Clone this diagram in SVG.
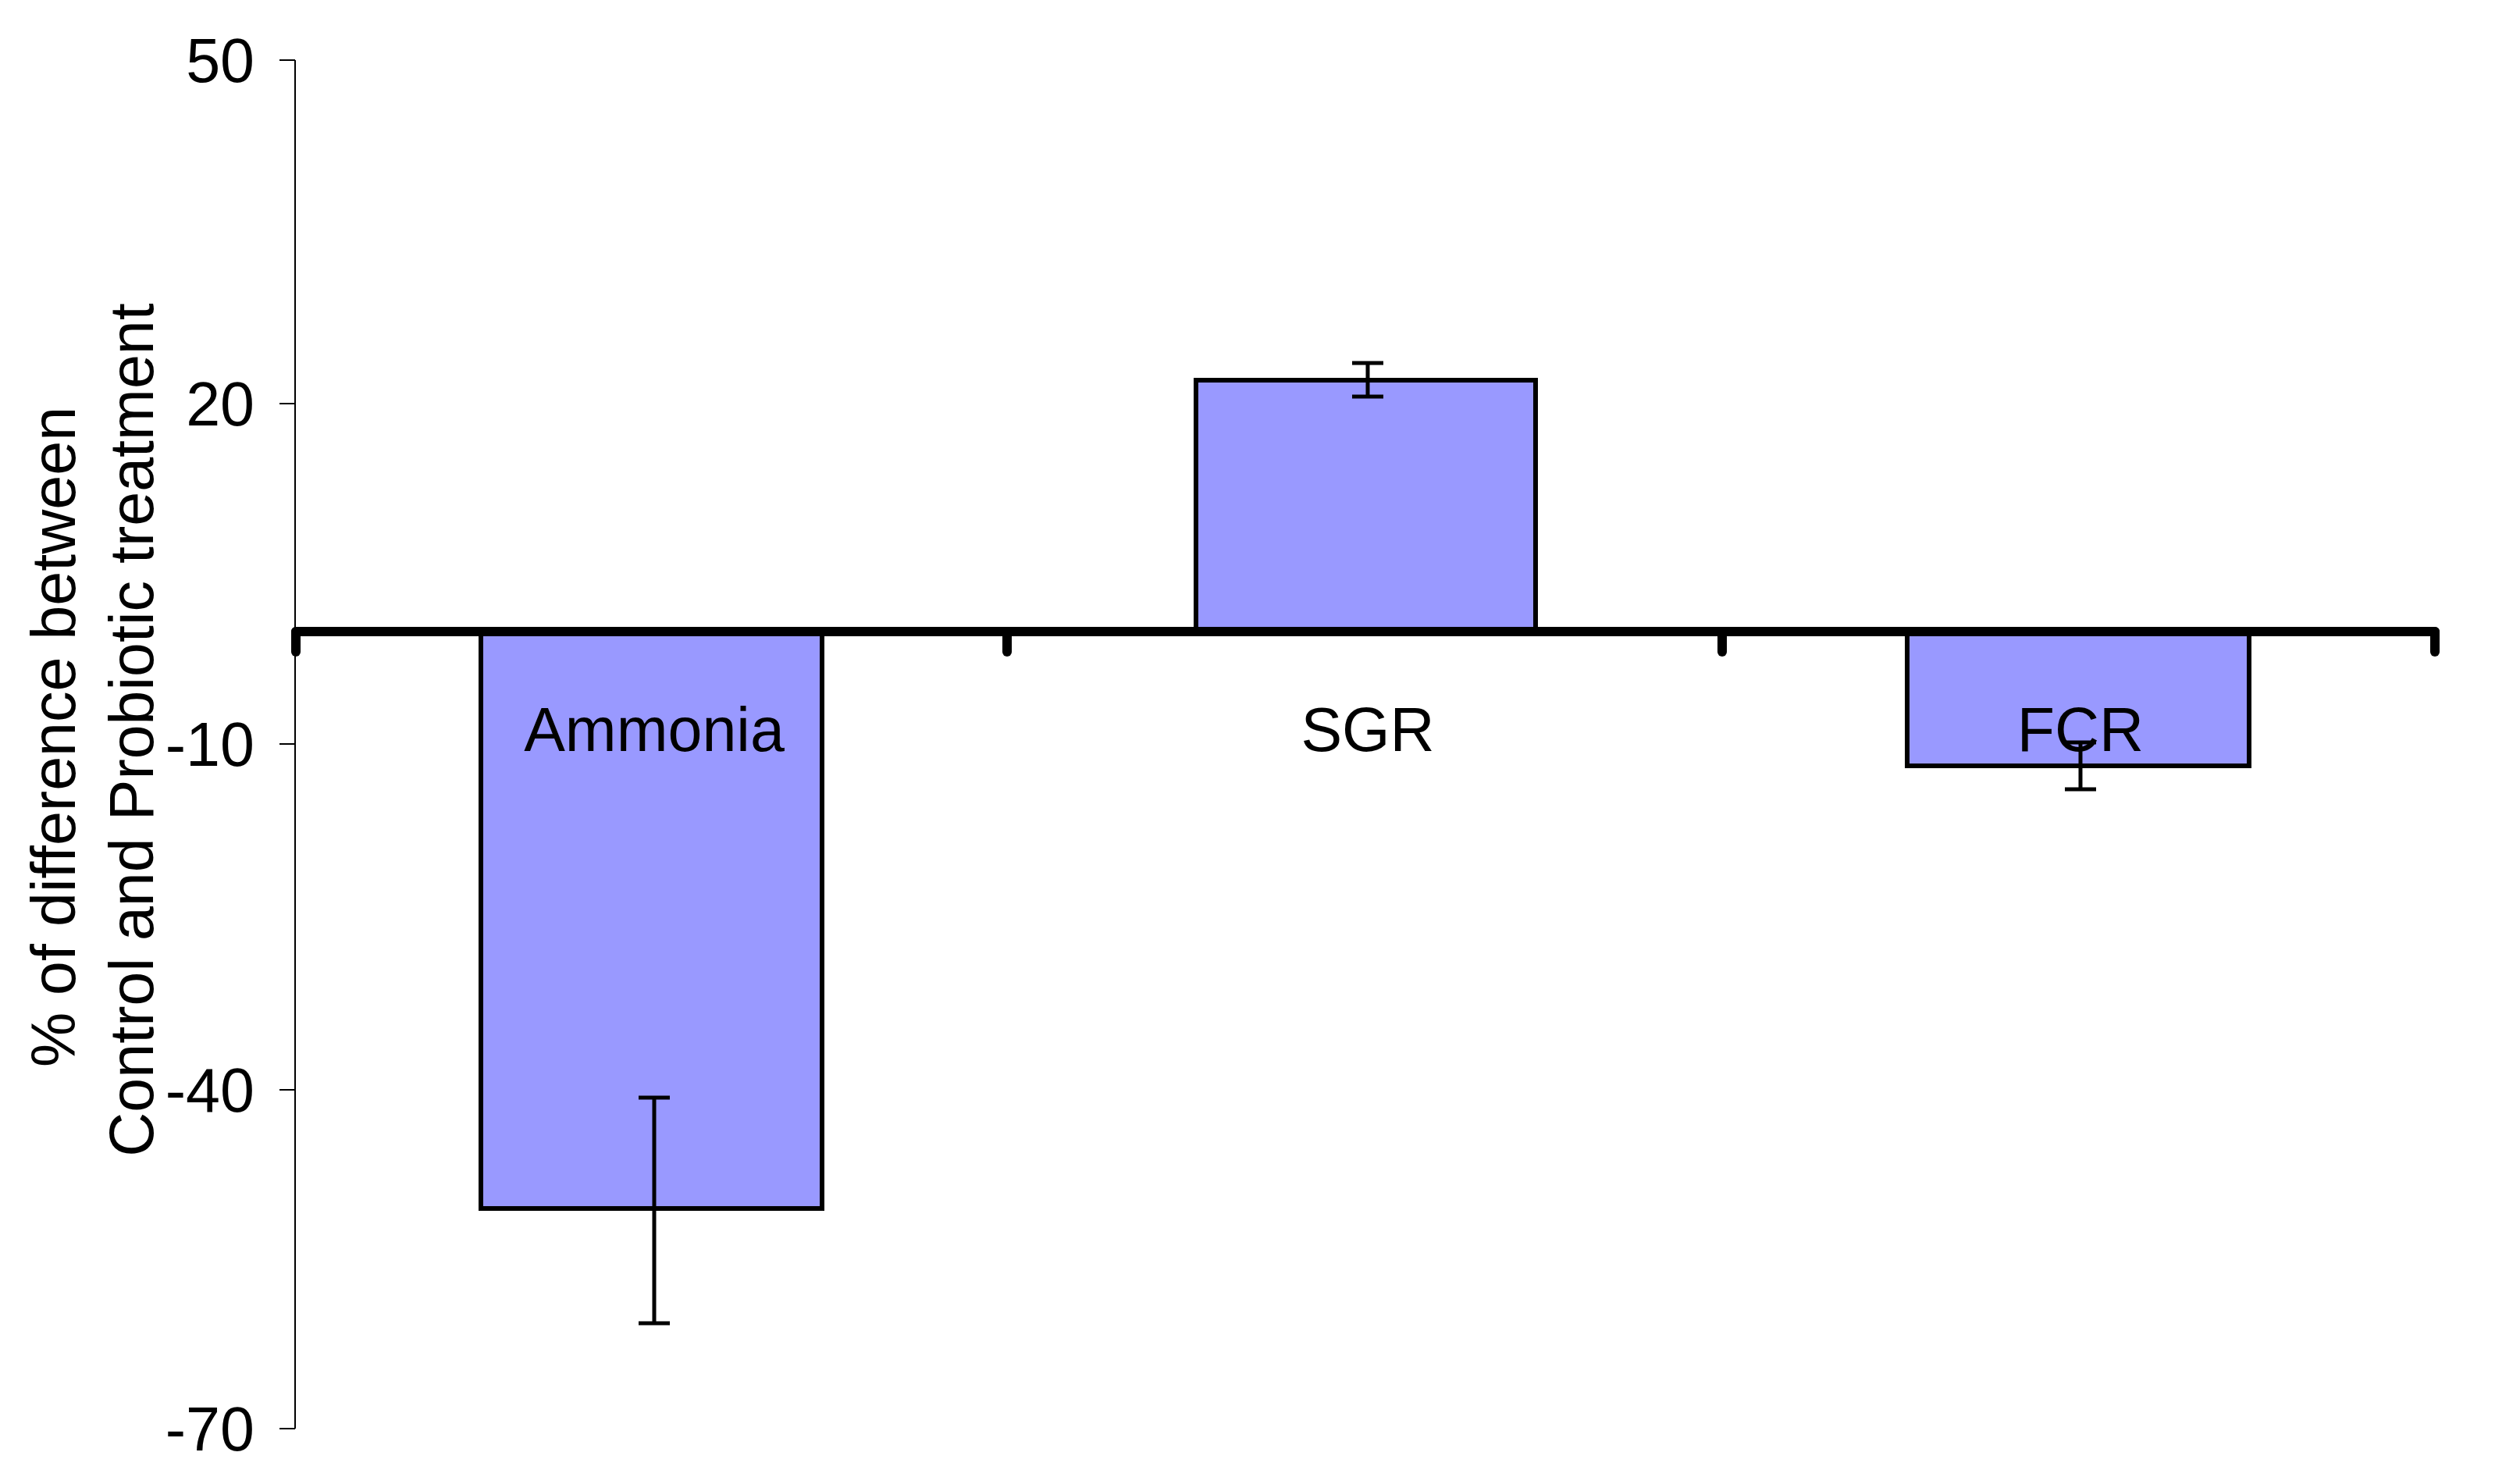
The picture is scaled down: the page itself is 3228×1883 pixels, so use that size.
<svg xmlns="http://www.w3.org/2000/svg" width="3228" height="1883" viewBox="0 0 3228 1883">
<style>
text{font-family:"Liberation Sans",Arial,sans-serif;font-size:79px;fill:#000}
.bar{fill:#9999ff;stroke:#000;stroke-width:6}
.eb{stroke:#000;stroke-width:5;fill:none}
.tl{text-anchor:end}
</style>
<rect width="3228" height="1883" fill="#fff"/>
<g id="yaxis">
<line x1="378" y1="77" x2="378" y2="1830" stroke="#000" stroke-width="2"/>
<g stroke="#000" stroke-width="2">
<line x1="358" y1="77" x2="378" y2="77"/><line x1="358" y1="517" x2="378" y2="517"/>
<line x1="358" y1="953" x2="378" y2="953"/><line x1="358" y1="1396" x2="378" y2="1396"/>
<line x1="358" y1="1830" x2="378" y2="1830"/></g>
<text class="tl" x="326" y="105">50</text>
<text class="tl" x="326" y="545">20</text>
<text class="tl" x="326" y="981">-10</text>
<text class="tl" x="326" y="1424">-40</text>
<text class="tl" x="326" y="1858">-70</text>
<text transform="translate(96,944) rotate(-90)" text-anchor="middle">% of difference between</text>
<text transform="translate(196,935) rotate(-90)" text-anchor="middle">Control and Probiotic treatment</text>
</g>
<g id="ammonia">
<rect class="bar" x="616" y="809" width="437" height="739"/>
<text x="838" y="962" text-anchor="middle">Ammonia</text>
</g>
<g id="sgr">
<rect class="bar" x="1532" y="487" width="435" height="322"/>
<text x="1752" y="962" text-anchor="middle">SGR</text>
</g>
<g id="fcr">
<rect class="bar" x="2443" y="809" width="438" height="172"/>
<text x="2665" y="962" text-anchor="middle">FCR</text>
</g>
<g id="connectors">
<path class="eb" d="M838 1406V1695M818 1406H858M818 1695H858"/>
<path class="eb" d="M1752 465V508M1732 465H1772M1732 508H1772"/>
<path class="eb" d="M2665 951V1011M2645 951H2685M2645 1011H2685"/>
<g stroke="#000" stroke-width="12" stroke-linecap="round">
<line x1="379" y1="809" x2="3119" y2="809"/>
<line x1="379" y1="809" x2="379" y2="835"/>
<line x1="1290" y1="809" x2="1290" y2="835"/>
<line x1="2206" y1="809" x2="2206" y2="835"/>
<line x1="3119" y1="809" x2="3119" y2="835"/>
</g>
</g>
</svg>
